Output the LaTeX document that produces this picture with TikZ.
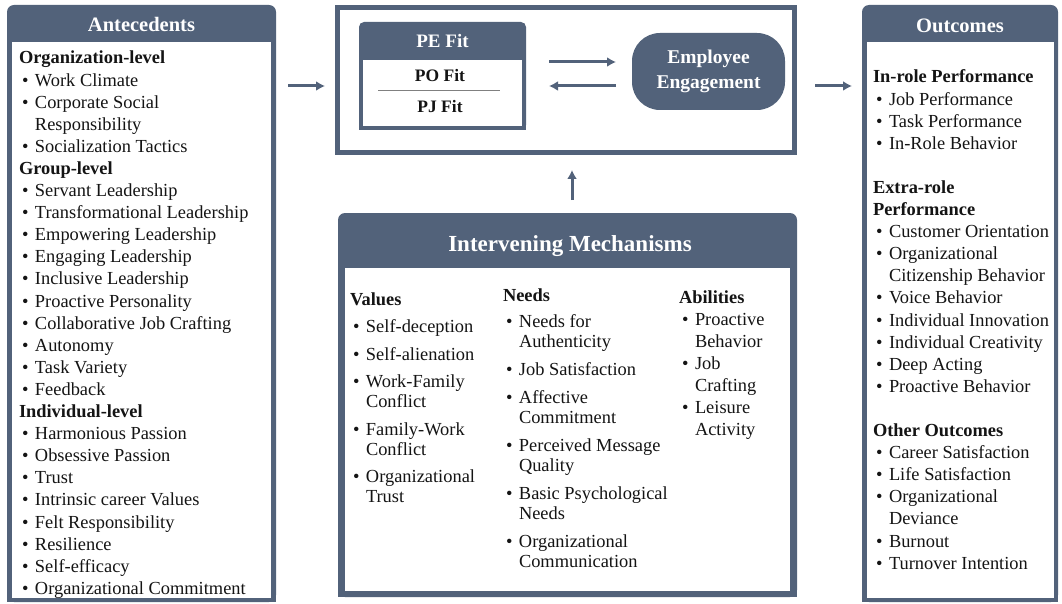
\documentclass[tikz,border=0pt]{standalone}
\usepackage{fontspec}
\setmainfont{Liberation Serif}
\usetikzlibrary{arrows.meta,positioning}
\definecolor{slate}{RGB}{82,98,122}
\definecolor{ink}{RGB}{20,20,20}
\newcommand\itm[1]{\hspace*{3pt}\makebox[13pt][l]{\textbullet}#1}
\newcommand\cnt[1]{\hspace*{16pt}#1}
\newcommand\hd[1]{\textbf{#1}}

\begin{document}
\begin{tikzpicture}[x=1pt, y=-1pt, every node/.style={inner sep=0pt, outer sep=0pt}]
    \tikzstyle{frame} = [rectangle, fill=slate, rounded corners=7pt]
    \tikzstyle{sheet} = [rectangle, fill=white]
    \tikzstyle{title} = [anchor=base, text=white, font=\fontsize{20.5}{24}\selectfont\bfseries]
    \tikzstyle{list} = [anchor=north west, align=left, text=ink, font=\fontsize{18.4}{22.1}\selectfont]
    \tikzstyle{mlist} = [list, font=\fontsize{18.4}{20}\selectfont]
    \tikzstyle{arr} = [-{Latex[length=9pt,width=10pt]}, line width=3pt, draw=slate]

    \useasboundingbox (0,0) rectangle (1062,604);

    % panels
    \node [frame, minimum width=269pt, minimum height=597pt] (ante) at (141.5,303.5) {};
    \node [frame, minimum width=459pt, minimum height=384pt] (mech) at (567.5,405) {};
    \node [frame, minimum width=196pt, minimum height=597pt] (outc) at (960,303.5) {};
    \node [frame, rounded corners=5pt, minimum width=167pt, minimum height=108pt] (pe) at (442.5,76) {};
    \foreach \p in {ante,mech,outc,pe}
        \fill [slate] (\p.south west) rectangle ([yshift=12pt]\p.south east);

    \node [sheet, minimum width=259pt, minimum height=556pt] (anteIn) at (141.5,320) {};
    \node [sheet, minimum width=445pt, minimum height=323pt] (mechIn) at (567.5,429.5) {};
    \node [sheet, minimum width=187pt, minimum height=556pt] (outcIn) at (960.5,320) {};
    \node [sheet, minimum width=159pt, minimum height=66pt] (peIn) at (442.5,93) {};

    \node [draw=slate, line width=5pt, outer sep=2.5pt, minimum width=457pt, minimum height=145pt] (core) at (566,80) {};
    \node [rectangle, fill=slate, rounded corners=28pt, minimum width=153pt, minimum height=77pt,
           align=center, text=white, font=\fontsize{19.5}{25}\selectfont\bfseries] (eng) at (708.5,71.5) {Employee\\Engagement};

    % titles
    \node [title] (anteT) at (141.5,32) {Antecedents};
    \node [title] (outcT) at (960,33) {Outcomes};
    \node [title, font=\fontsize{23}{26}\selectfont\bfseries] (mechT) at (570,251) {Intervening Mechanisms};
    \node [title, font=\fontsize{19}{22}\selectfont\bfseries] (peT) at (442.5,48) {PE Fit};
    \node [anchor=base, text=ink, font=\fontsize{17.5}{20}\selectfont\bfseries] (po) at (440,82) {PO Fit};
    \node [anchor=base, text=ink, font=\fontsize{17.5}{20}\selectfont\bfseries] (pj) at (440,113) {PJ Fit};
    \coordinate (sep) at (439,90);
    \draw [gray, line width=0.8pt] ([xshift=-61pt]sep) -- ([xshift=61pt]sep);

    % lists
    \node [list] (anteL) at (19,48.5) {\strut\hd{Organization-level}\\
        \itm{Work Climate}\\
        \itm{Corporate Social}\\
        \cnt{Responsibility}\\
        \itm{Socialization Tactics}\\
        \hd{Group-level}\\
        \itm{Servant Leadership}\\
        \itm{Transformational Leadership}\\
        \itm{Empowering Leadership}\\
        \itm{Engaging Leadership}\\
        \itm{Inclusive Leadership}\\
        \itm{Proactive Personality}\\
        \itm{Collaborative Job Crafting}\\
        \itm{Autonomy}\\
        \itm{Task Variety}\\
        \itm{Feedback}\\
        \hd{Individual-level}\\
        \itm{Harmonious Passion}\\
        \itm{Obsessive Passion}\\
        \itm{Trust}\\
        \itm{Intrinsic career Values}\\
        \itm{Felt Responsibility}\\
        \itm{Resilience}\\
        \itm{Self-efficacy}\\
        \itm{Organizational Commitment}};

    \node [list] (outcL) at (873,67.5) {\strut\hd{In-role Performance}\\
        \itm{Job Performance}\\
        \itm{Task Performance}\\
        \itm{In-Role Behavior}\\[22.1pt]
        \hd{Extra-role}\\
        \hd{Performance}\\
        \itm{Customer Orientation}\\
        \itm{Organizational}\\
        \cnt{Citizenship Behavior}\\
        \itm{Voice Behavior}\\
        \itm{Individual Innovation}\\
        \itm{Individual Creativity}\\
        \itm{Deep Acting}\\
        \itm{Proactive Behavior}\\[22.1pt]
        \hd{Other Outcomes}\\
        \itm{Career Satisfaction}\\
        \itm{Life Satisfaction}\\
        \itm{Organizational}\\
        \cnt{Deviance}\\
        \itm{Burnout}\\
        \itm{Turnover Intention}};

    \node [mlist] (vals) at (350,291) {\strut\hd{Values}\\[7.5pt]
        \itm{Self-deception}\\[7.5pt]
        \itm{Self-alienation}\\[7.5pt]
        \itm{Work-Family}\\
        \cnt{Conflict}\\[7.5pt]
        \itm{Family-Work}\\
        \cnt{Conflict}\\[7.5pt]
        \itm{Organizational}\\
        \cnt{Trust}};

    \node [mlist] (needs) at (503,287) {\strut\hd{Needs}\\[6pt]
        \itm{Needs for}\\
        \cnt{Authenticity}\\[8pt]
        \itm{Job Satisfaction}\\[8pt]
        \itm{Affective}\\
        \cnt{Commitment}\\[8pt]
        \itm{Perceived Message}\\
        \cnt{Quality}\\[8pt]
        \itm{Basic Psychological}\\
        \cnt{Needs}\\[8pt]
        \itm{Organizational}\\
        \cnt{Communication}};

    \node [list, font=\fontsize{18.4}{22}\selectfont] (abil) at (679,287.6) {\strut\hd{Abilities}\\
        \itm{Proactive}\\
        \cnt{Behavior}\\
        \itm{Job}\\
        \cnt{Crafting}\\
        \itm{Leisure}\\
        \cnt{Activity}};

    % connectors
    \coordinate (lvl) at (0,86);
    \coordinate (fwd) at (0,62);
    \coordinate (bwd) at (0,86);
    \coordinate (upx) at (572,0);
    \draw [arr, shorten <=12pt, shorten >=10pt] (ante.east |- lvl) -- (core.west |- lvl);
    \draw [arr, shorten <=18pt, shorten >=10pt] (core.east |- lvl) -- (outc.west |- lvl);
    \draw [arr, shorten <=23pt, shorten >=16pt] (pe.east |- fwd) -- (eng.west |- fwd);
    \draw [arr, shorten <=16pt, shorten >=23pt] (eng.west |- bwd) -- (pe.east |- bwd);
    \draw [arr, shorten <=13pt, shorten >=15pt] (mech.north -| upx) -- (core.south -| upx);
\end{tikzpicture}
\end{document}
